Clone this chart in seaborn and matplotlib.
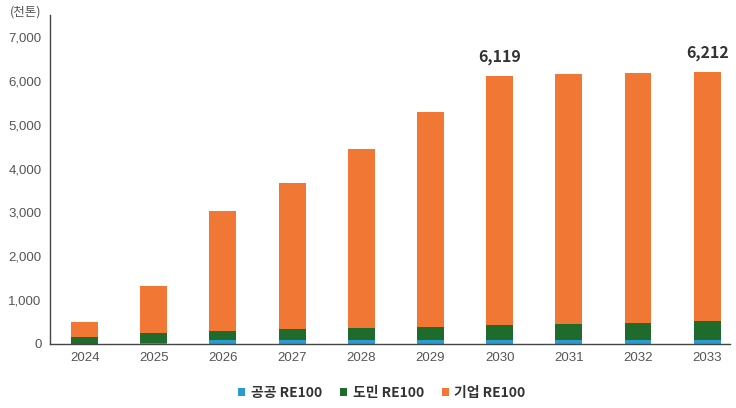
import pandas as pd
import matplotlib.pyplot as plt
import seaborn as sns

# values (thousand tonnes)
years = ['2024', '2025', '2026', '2027', '2028', '2029', '2030', '2031', '2032', '2033']
public_re100 = [5, 30, 90, 95, 100, 100, 100, 100, 100, 100]
resident_re100 = [161, 214, 213, 240, 265, 295, 326, 349, 386, 418]
corporate_re100 = [343, 1079, 2730, 3337, 4082, 4896, 5693, 5701, 5686, 5694]
labels = ['공공 RE100', '도민 RE100', '기업 RE100']
colors = ['#2A9AD3', '#1F6B2C', '#F07834']

df = pd.DataFrame({'year': years, 'public': public_re100,
                   'resident': resident_re100, 'corporate': corporate_re100})
df['lvl1'] = df['public']
df['lvl2'] = df['public'] + df['resident']
df['lvl3'] = df['lvl2'] + df['corporate']

sns.set_style('white')
plt.rcParams['font.family'] = ['Noto Sans CJK KR', 'DejaVu Sans']

fig = plt.figure(figsize=(7.36, 4.08), dpi=100)
ax = fig.add_axes([50 / 736, 64 / 408, 680 / 736, 329 / 408])

# stacked bars drawn as overlapping cumulative totals
for col, c, lab in zip(['lvl3', 'lvl2', 'lvl1'], colors[::-1], labels[::-1]):
    sns.barplot(data=df, x='year', y=col, color=c, width=0.39, ax=ax,
                label=lab, saturation=1, linewidth=0)

ax.set_xlim(-0.5, 9.33)
ax.set_ylim(0, 7500)
ax.set_yticks(range(0, 7001, 1000))
ax.set_yticklabels([f'{v:,}' for v in range(0, 7001, 1000)])
ax.set_xlabel('')
ax.set_ylabel('')
ax.tick_params(axis='both', length=0, labelsize=9.5, colors='#555555', pad=6)
for t in ax.get_xticklabels() + ax.get_yticklabels():
    t.set_family('Liberation Sans')
for s in ['top', 'right']:
    ax.spines[s].set_visible(False)
for s in ['left', 'bottom']:
    ax.spines[s].set_color('#444444')
    ax.spines[s].set_linewidth(1)

# total labels
for i in [6, 9]:
    tot = df['lvl3'][i]
    ax.text(i, tot + 230, f'{tot:,}', ha='center', va='bottom',
            fontsize=11.5, fontweight='bold', color='#333333')

fig.text(10 / 736, 1 - 12 / 408, '(천톤)', fontsize=9, color='#555555', va='center')

handles, hl = ax.get_legend_handles_labels()
order = [hl.index(l) for l in labels]
ax.legend([handles[k] for k in order], labels, loc='center',
          bbox_to_anchor=(0.5 - 8 / 680, -0.15), ncol=3, frameon=False,
          handlelength=0.5, handleheight=0.5, handletextpad=0.4,
          columnspacing=1.3, prop={'size': 10, 'weight': 'bold'},
          labelcolor='#333333')

plt.savefig('out.png', dpi=100)
